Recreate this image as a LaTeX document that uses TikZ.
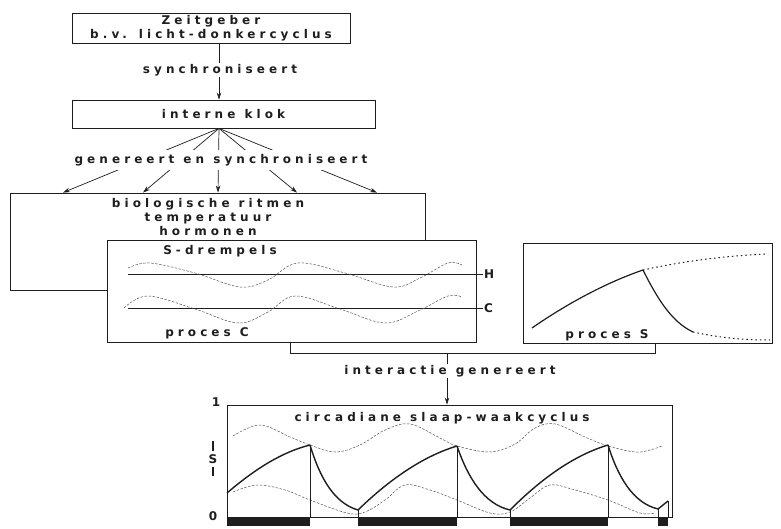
\documentclass[tikz,border=0pt]{standalone}
\usepackage{fontspec}
\setmainfont{DejaVu Sans}[LetterSpace=34, WordSpace=1.1]
\usetikzlibrary{arrows.meta,calc}
\definecolor{ink}{HTML}{1E1E1E}
\begin{document}
\begin{tikzpicture}[x=1pt,y=-1pt,
  box/.style={draw=ink, line width=0.8pt, fill=white, inner sep=0pt},
  txt/.style={text=ink, font=\fontsize{12}{14}\selectfont\bfseries, inner sep=1pt, align=center},
  lab/.style={txt, fill=white},
  arr/.style={draw=ink, line width=0.7pt, -{Stealth[length=7pt,width=4.5pt]}},
  ln/.style={draw=ink, line width=0.7pt},
  thr/.style={draw=ink!75, line width=0.5pt, dash pattern=on 2.5pt off 1.5pt},
  scurve/.style={draw=ink, line width=1.4pt, line join=round},
]
\useasboundingbox (0,0) rectangle (781,529);
\fill[white] (0,0) rectangle (781,529);

% top boxes
\node[box, txt, minimum width=278pt, minimum height=30pt] (zeit) at (211,28) {Zeitgeber\\b.v. licht-donkercyclus};
\node[box, txt, minimum width=303pt, minimum height=28pt] (klok) at (223.5,114) {interne klok};
\coordinate (a1) at (219,0);
\draw[arr] (zeit.south -| a1) -- (klok.north -| a1);
\node[lab] (sync) at (220,70) {synchroniseert};

% biological box
\node[box, minimum width=415pt, minimum height=97pt] (bio) at (217.5,241.5) {};
\node[txt, anchor=north] (biot) at (208,197) {biologische ritmen\\temperatuur\\hormonen};
\foreach \xx in {63,143,218,297,377}{
  \draw[arr] (klok.south -| a1) -- (bio.north -| \xx,0);
}
\node[lab, minimum height=20pt, inner xsep=2pt] (gen) at (221,160) {genereert en synchroniseert};

% proces C
\node[box, minimum width=369pt, minimum height=102pt] (procC) at (291.5,291) {};
\node[txt] (sdr) at (220,251) {S-drempels};
\coordinate (hend) at (483,274);
\coordinate (cend) at (483,308);
\draw[ln, line width=0.6pt] (128,274) -- (hend);
\draw[ln, line width=0.6pt] (128,308) -- (cend);
\node[txt, anchor=west] (hl) at (hend) {H};
\node[txt, anchor=west] (cl) at (cend) {C};
\draw[thr] plot[smooth, tension=0.6] coordinates {(128,268) (150,263) (195,273) (240,287) (268,280) (298,263) (345,273) (393,287) (420,278) (448,263) (462,265)};
\draw[thr] plot[smooth, tension=0.6] coordinates {(124,308) (148,296) (195,309) (238,323) (268,312) (295,296) (340,309) (385,323) (418,311) (448,296) (462,297)};
\node[txt] (pcl) at (207,333) {proces C};

% proces S
\node[box, minimum width=249pt, minimum height=100pt] (procS) at (647.5,293) {};
\coordinate (sp) at (643,270);
\draw[scurve, line width=1.2pt] (532,328) .. controls (565,305) and (605,283) .. (sp) .. controls (658,300) and (672,322) .. (693,332);
\draw[ink, line width=1pt, dash pattern=on 1.5pt off 3pt] (693,332) .. controls (720,338) and (745,340) .. (770,340);
\draw[ink, line width=1pt, dash pattern=on 1.5pt off 3pt] (sp) .. controls (680,262) and (720,256) .. (768,254);
\node[txt] (psl) at (607,335) {proces S};

% bracket and interaction
\coordinate (bl) at (290,353);
\coordinate (br) at (655,353);
\coordinate (bm) at (447,353);
\draw[ln] (procC.south -| bl) -- (bl) -- (br) -- (procS.south -| br);

% plot
\node[box, minimum width=445pt, minimum height=112pt] (plot) at (449.5,461) {};
\draw[arr] (bm) -- (plot.north -| bm);
\node[lab] (inter) at (450,371) {interactie genereert};
\node[txt] (circ) at (442,418) {circadiane slaap-waakcyclus};

\draw[thr] plot[smooth, tension=0.6] coordinates {(233,436) (260,425) (290,437) (310,445) (335,452) (360,445) (385,430) (410,424) (440,438) (457,446) (490,452) (515,444) (535,428) (555,424) (585,437) (608,446) (635,452) (650,450) (662,446)};
\draw[thr] plot[smooth, tension=0.6] coordinates {(233,492) (257,485) (285,490) (310,500) (347,513) (365,512) (385,500) (405,485) (430,490) (457,500) (490,513) (510,512) (530,498) (550,485) (575,490) (608,500) (640,513) (655,513)};

\coordinate (s0) at (227,493);
\coordinate (p1) at (310,445);
\coordinate (t1) at (358,510);
\coordinate (p2) at (457,446);
\coordinate (t2) at (510,510);
\coordinate (p3) at (608,445);
\coordinate (t3) at (658,509);
\coordinate (e) at (668,501);
\foreach \pp in {p1,t1,p2,t2,p3,t3,e}{
  \draw[ln, line width=0.6pt] (\pp) -- (\pp |- plot.south);
}
\draw[scurve] (s0) .. controls (255,469) and (282,452) .. (p1)
  .. controls (320,478) and (334,503) .. (t1)
  .. controls (391,478) and (424,456) .. (p2)
  .. controls (468,478) and (484,504) .. (t2)
  .. controls (543,477) and (575,455) .. (p3)
  .. controls (618,477) and (633,503) .. (t3)
  -- (e);
\fill[ink] (227,518) rectangle (310,526);
\fill[ink] (358,518) rectangle (457,526);
\fill[ink] (510,518) rectangle (608,526);
\fill[ink] (658,518) rectangle (668,526);

\node[txt] (one) at (216,402) {1};
\node[txt] (zero) at (213,516) {0};
\node[txt] (sl) at (213,459) {S};
\draw[ink, line width=1.3pt] (213,441) -- (213,451);
\draw[ink, line width=1.3pt] (213,467) -- (213,476);
\end{tikzpicture}
\end{document}
